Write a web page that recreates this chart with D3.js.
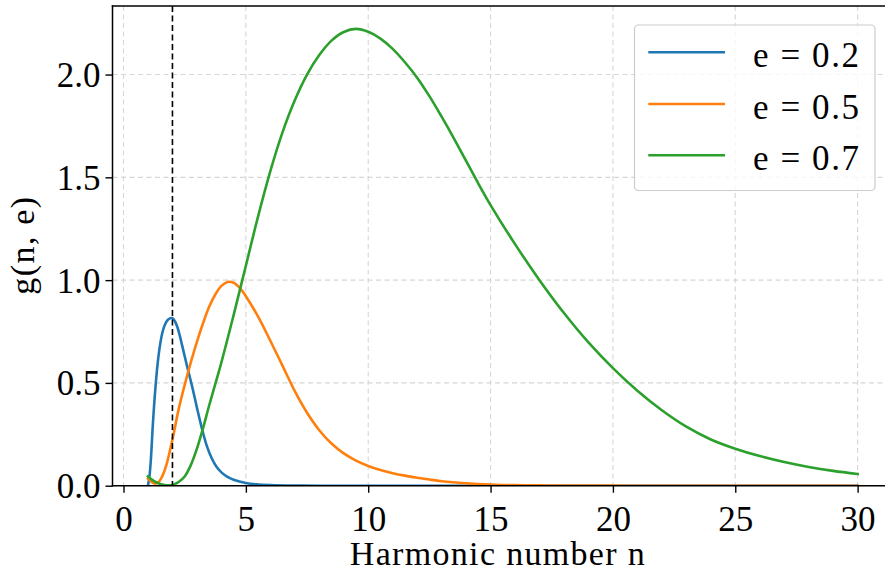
<!DOCTYPE html>
<html>
<head>
<meta charset="utf-8">
<script src="https://cdn.jsdelivr.net/npm/d3@7"></script>
<style>
  html, body { margin: 0; padding: 0; background: #fff; }
  svg { display: block; }
  text { font-family: "Liberation Serif", "Times New Roman", serif; fill: #000; }
</style>
</head>
<body>
<div id="chart"></div>
<script>
// g(n, e) harmonic power distribution, sampled along n for three eccentricities
const eccentricities = ["0.2", "0.5", "0.7"];
const seriesColors = ["#1f77b4", "#ff7f0e", "#2ca02c"];

const curveE02 = [
  [1.0, 0.0], [1.06, 0.045], [1.12, 0.13], [1.2, 0.3], [1.3, 0.47], [1.4, 0.6],
  [1.5, 0.69], [1.6, 0.75], [1.7, 0.785], [1.8, 0.805], [1.9, 0.814], [2.0, 0.815],
  [2.1, 0.8], [2.2, 0.772], [2.3, 0.73], [2.4, 0.68], [2.5, 0.63], [2.6, 0.58],
  [2.8, 0.485], [3.0, 0.38], [3.2, 0.28], [3.4, 0.195], [3.6, 0.135], [3.8, 0.092],
  [4.0, 0.065], [4.25, 0.043], [4.5, 0.029], [5.0, 0.013], [5.5, 0.006], [6.0, 0.003],
  [7.0, 0.0005], [8.0, 0.0], [12.0, 0.0], [20.0, 0.0], [30.0, 0.0]
];

const curveE05 = [
  [1.0, 0.035], [1.15, 0.018], [1.3, 0.01], [1.45, 0.02], [1.6, 0.05], [1.75, 0.1],
  [2.0, 0.225], [2.25, 0.37], [2.5, 0.49], [2.75, 0.6], [3.0, 0.7], [3.25, 0.79],
  [3.5, 0.87], [3.75, 0.93], [4.0, 0.972], [4.25, 0.991], [4.5, 0.987], [4.75, 0.962],
  [5.0, 0.922], [5.5, 0.822], [6.0, 0.705], [6.5, 0.583], [7.0, 0.46], [7.5, 0.355],
  [8.0, 0.27], [8.5, 0.205], [9.0, 0.157], [9.5, 0.122], [10.0, 0.096], [10.5, 0.076],
  [11.0, 0.061], [11.5, 0.049], [12.0, 0.039], [12.5, 0.03], [13.0, 0.022], [14.0, 0.012],
  [15.0, 0.006], [16.0, 0.003], [17.0, 0.0015], [18.0, 0.0007], [20.0, 0.0002],
  [22.0, 0.0], [30.0, 0.0]
];

const curveE07 = [
  [1.0, 0.045], [1.25, 0.022], [1.5, 0.008], [1.75, 0.002], [2.0, 0.003], [2.25, 0.018],
  [2.5, 0.045], [2.75, 0.1], [3.0, 0.18], [3.25, 0.28], [3.5, 0.39], [4.0, 0.6],
  [4.5, 0.83], [5.0, 1.07], [5.5, 1.31], [6.0, 1.53], [6.5, 1.72], [7.0, 1.875],
  [7.5, 2.0], [8.0, 2.095], [8.5, 2.165], [9.0, 2.207], [9.5, 2.222], [10.0, 2.208],
  [10.5, 2.175], [11.0, 2.125], [11.5, 2.06], [12.0, 1.985], [12.5, 1.895], [13.0, 1.795],
  [13.5, 1.69], [14.0, 1.58], [14.5, 1.47], [15.0, 1.365], [16.0, 1.175], [17.0, 1.0],
  [18.0, 0.84], [19.0, 0.697], [20.0, 0.572], [21.0, 0.462], [22.0, 0.367], [23.0, 0.287],
  [24.0, 0.225], [25.0, 0.18], [26.0, 0.144], [27.0, 0.115], [28.0, 0.091], [29.0, 0.072],
  [30.0, 0.057]
];

const xTicks = [0, 5, 10, 15, 20, 25, 30];
const yTicks = [0.0, 0.5, 1.0, 1.5, 2.0];
const markerN = 2;

const xTitle = "Harmonic number n";
const yTitle = "g(n, e)";

const W = 885, H = 574;
const plot = { left: 112.5, top: 6, bottom: 485.7, right: 893.1 };

const svg = d3.select("#chart").append("svg")
  .attr("width", W).attr("height", H);

const x = d3.scaleLinear().domain([-0.45, 31.45]).range([plot.left, plot.right]);
const y = d3.scaleLinear().domain([0, 2.3335]).range([plot.bottom, plot.top]);

svg.append("defs").append("clipPath").attr("id", "plotClip")
  .append("rect")
  .attr("x", plot.left).attr("y", plot.top)
  .attr("width", plot.right - plot.left).attr("height", plot.bottom - plot.top);

// grid
const grid = svg.append("g").attr("stroke", "#d6d6d6").attr("stroke-width", 1.1)
  .attr("stroke-dasharray", "5,3.5").attr("fill", "none");
grid.selectAll("line.gx").data(xTicks).join("line")
  .attr("x1", d => x(d)).attr("x2", d => x(d))
  .attr("y1", plot.top).attr("y2", plot.bottom);
grid.selectAll("line.gy").data(yTicks).join("line")
  .attr("x1", plot.left).attr("x2", plot.right)
  .attr("y1", d => y(d)).attr("y2", d => y(d));

// series
const series = [curveE02, curveE05, curveE07];
const line = d3.line()
  .x(d => x(d[0])).y(d => y(d[1]))
  .curve(d3.curveCatmullRom.alpha(0.5));

const curves = svg.append("g").attr("clip-path", "url(#plotClip)");
series.forEach((s, i) => {
  curves.append("path")
    .datum(s)
    .attr("d", line)
    .attr("fill", "none")
    .attr("stroke", seriesColors[i])
    .attr("stroke-width", 2.6)
    .attr("stroke-linejoin", "round")
    .attr("stroke-linecap", "square");
});

// reference line at n = 2
svg.append("line")
  .attr("x1", x(markerN)).attr("x2", x(markerN))
  .attr("y1", plot.top).attr("y2", plot.bottom)
  .attr("stroke", "#000").attr("stroke-width", 1.6)
  .attr("stroke-dasharray", "6,3.5");

// axes
const xAxis = d3.axisBottom(x).tickValues(xTicks).tickSize(7).tickPadding(6)
  .tickFormat(d3.format("d"));
const yAxis = d3.axisLeft(y).tickValues(yTicks).tickSize(7).tickPadding(8)
  .tickFormat(d3.format(".1f"));

const gx = svg.append("g").attr("transform", `translate(0,${plot.bottom})`).call(xAxis);
const gy = svg.append("g").attr("transform", `translate(${plot.left},0)`).call(yAxis);

[gx, gy].forEach(g => {
  g.select(".domain").remove();
  g.selectAll(".tick line").attr("stroke", "#000").attr("stroke-width", 1.4);
  g.selectAll(".tick text")
    .attr("font-family", "Liberation Serif, serif")
    .attr("font-size", 35)
    .attr("fill", "#000");
});
gx.selectAll(".tick text").attr("dy", null).attr("y", 45);
gy.selectAll(".tick text").attr("dy", null).attr("y", 12).attr("x", -12);

// spines
const spines = svg.append("g").attr("stroke", "#000").attr("stroke-width", 1.5)
  .attr("stroke-linecap", "square");
spines.append("line").attr("x1", plot.left).attr("x2", plot.left)
  .attr("y1", plot.top).attr("y2", plot.bottom);
spines.append("line").attr("x1", plot.left).attr("x2", plot.right)
  .attr("y1", plot.bottom).attr("y2", plot.bottom);
spines.append("line").attr("x1", plot.left).attr("x2", plot.right)
  .attr("y1", plot.top).attr("y2", plot.top);
spines.append("line").attr("x1", plot.right).attr("x2", plot.right)
  .attr("y1", plot.top).attr("y2", plot.bottom);

// axis titles
svg.append("text")
  .attr("x", (plot.left + 858) / 2 + 12).attr("y", 565)
  .attr("text-anchor", "middle")
  .attr("font-size", 34)
  .attr("textLength", 295).attr("lengthAdjust", "spacing")
  .text(xTitle);

svg.append("text")
  .attr("transform", `translate(34,${(plot.top + plot.bottom) / 2}) rotate(-90)`)
  .attr("text-anchor", "middle")
  .attr("font-size", 34)
  .attr("textLength", 98).attr("lengthAdjust", "spacing")
  .text(yTitle);

// legend
const legend = svg.append("g");
legend.append("rect")
  .attr("x", 634.5).attr("y", 25).attr("width", 240.5).attr("height", 165.5)
  .attr("rx", 4).attr("ry", 4)
  .attr("fill", "#fff").attr("fill-opacity", 0.8)
  .attr("stroke", "#cccccc").attr("stroke-width", 1.2);

const rowY = [52.3, 104, 155.3];
eccentricities.forEach((e, i) => {
  legend.append("line")
    .attr("x1", 648.3).attr("x2", 725)
    .attr("y1", rowY[i]).attr("y2", rowY[i])
    .attr("stroke", seriesColors[i]).attr("stroke-width", 2.6);
  legend.append("text")
    .attr("x", 753).attr("y", rowY[i] + 14.5)
    .attr("font-size", 35)
    .attr("textLength", 106).attr("lengthAdjust", "spacing")
    .text(`e = ${e}`);
});
</script>
</body>
</html>
